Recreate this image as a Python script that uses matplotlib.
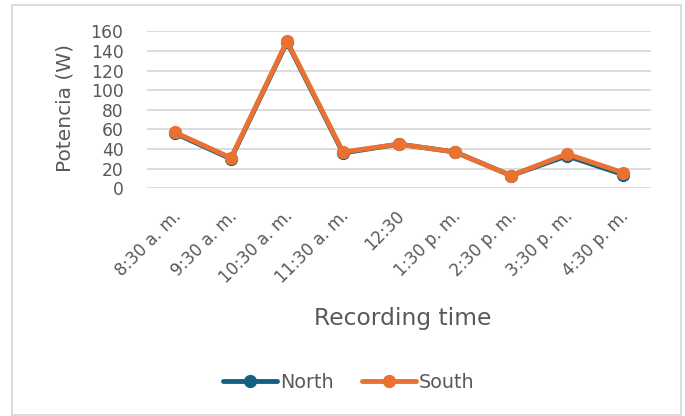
import matplotlib
matplotlib.use("Agg")
import matplotlib.pyplot as plt
import matplotlib.transforms as mtransforms
from matplotlib.patches import Rectangle

# Recorded power per time slot
times = ["8:30 a. m.", "9:30 a. m.", "10:30 a. m.", "11:30 a. m.", "12:30",
         "1:30 p. m.", "2:30 p. m.", "3:30 p. m.", "4:30 p. m."]
north = [56, 30, 149, 36, 45, 37, 13, 33, 14]
south = [57, 31, 150, 37, 45, 37, 13, 35, 16]
yticks = [0, 20, 40, 60, 80, 100, 120, 140, 160]

TEXT = "#595959"
GRID = "#d9d9d9"
BLUE = "#156082"
ORANGE = "#E97132"

plt.rcParams["font.family"] = ["DejaVu Sans"]

fig = plt.figure(figsize=(6.85, 4.16), dpi=100)
W, H = 685, 416
ax = fig.add_axes([147 / W, 1 - 188.3 / H, (651 - 147) / W, (188.3 - 31.3) / H])

x = list(range(len(times)))
ax.plot(x, north, color=BLUE, lw=3.5, marker="o", ms=8.5, solid_capstyle="round",
        label="North", zorder=3)
ax.plot(x, south, color=ORANGE, lw=3.5, marker="o", ms=8.5, solid_capstyle="round",
        label="South", zorder=4)

ax.set_xlim(-0.5, len(times) - 0.5)
ax.set_ylim(0, 160)
ax.set_yticks(yticks)
ax.yaxis.grid(True, color=GRID, lw=1.3)
ax.set_axisbelow(True)
for s in ax.spines.values():
    s.set_visible(False)

ax.tick_params(axis="y", length=0, pad=17, labelsize=12.3, labelcolor=TEXT)
ax.tick_params(axis="x", length=0, pad=18, labelsize=12, labelcolor=TEXT)
ax.set_xticks(x)
ax.set_xticklabels(times, rotation=45, ha="right", va="center", rotation_mode="anchor")
offset = mtransforms.ScaledTranslation(3 / 100, 0, fig.dpi_scale_trans)
for lbl in ax.get_xticklabels():
    lbl.set_transform(lbl.get_transform() + offset)

ax.set_ylabel("Potencia (W)", fontsize=14.5, color=TEXT)
ax.yaxis.set_label_coords(65 / W, 1 - 108 / H, transform=fig.transFigure)
ax.yaxis.label.set_va("center")
ax.set_xlabel("Recording time", fontsize=16.8, color=TEXT)
ax.xaxis.set_label_coords(403 / W, 1 - 318 / H, transform=fig.transFigure)
ax.xaxis.label.set_va("center")

fig.legend(loc="center", bbox_to_anchor=(349 / W, 1 - 382 / H), ncol=2, frameon=False,
           fontsize=13.8, labelcolor=TEXT, handlelength=2.8, handletextpad=0.15,
           columnspacing=1.5, markerscale=1.0)

fig.patches.append(Rectangle((12.5 / W, 1 - 414.5 / H), (681 - 12.5) / W, (414.5 - 4.5) / H,
                             transform=fig.transFigure, fill=False, edgecolor=GRID, lw=1.3))

fig.savefig("out.png", dpi=100, facecolor="white")
